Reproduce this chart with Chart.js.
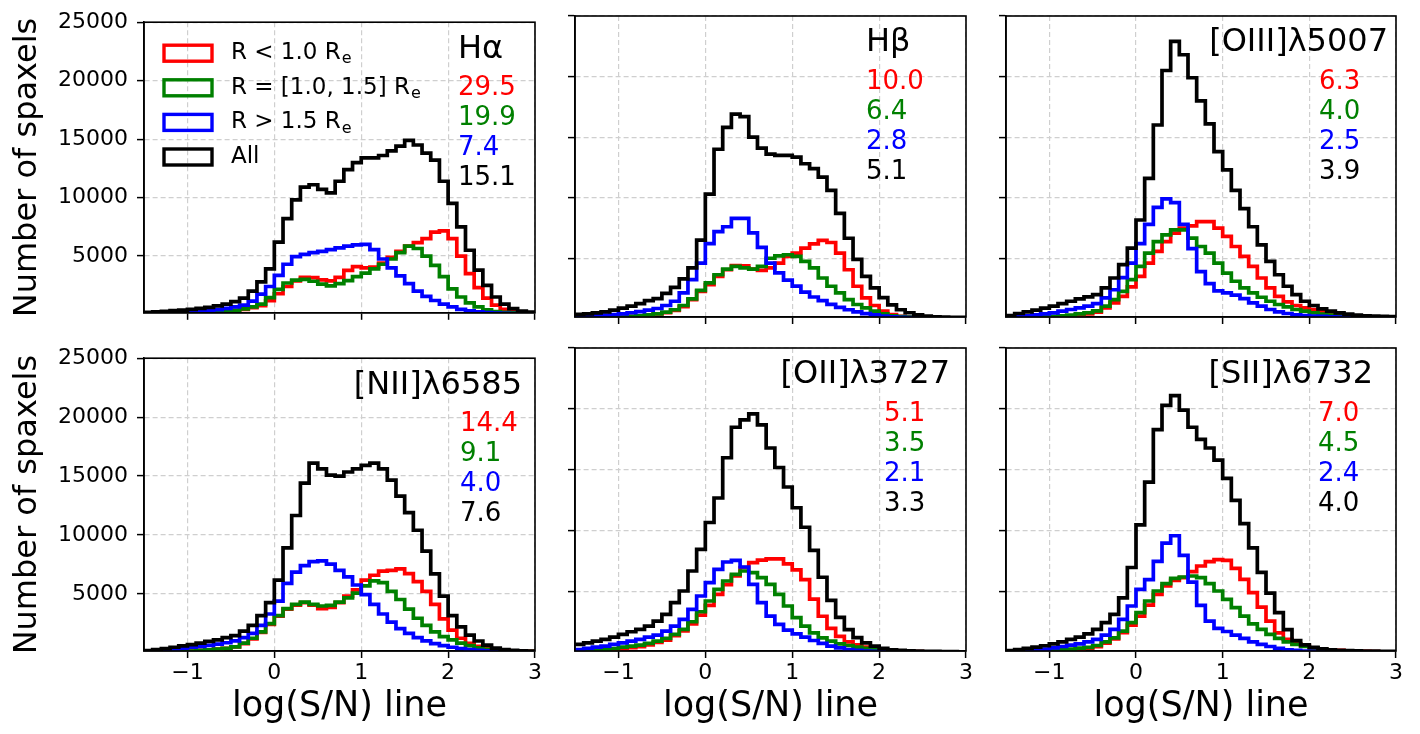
<!DOCTYPE html>
<html>
<head>
<meta charset="utf-8">
<script src="https://cdn.jsdelivr.net/npm/chart.js@4.4.1/dist/chart.umd.min.js"></script>
<style>
  body { margin: 0; background: #fff; }
  #wrap { position: relative; width: 1420px; height: 734px; overflow: hidden; }
  #wrap canvas { position: absolute; }
</style>
</head>
<body>
<div id="wrap"></div>
<script>
// bin edges of the histograms (log S/N)
const binEdges = [-1.5,-1.4,-1.3,-1.2,-1.1,-1.0,-0.9,-0.8,-0.7,-0.6,-0.5,-0.4,-0.3,-0.2,-0.1,0,
  0.1,0.2,0.3,0.4,0.5,0.6,0.7,0.8,0.9,1.0,1.1,1.2,1.3,1.4,1.5,1.6,1.7,1.8,1.9,2.0,
  2.1,2.2,2.3,2.4,2.5,2.6,2.7,2.8,2.9,3.0];

const xTicks = [-1, 0, 1, 2, 3];
const yTicks = [5000, 10000, 15000, 20000, 25000];

const seriesLabels = ['R < 1.0 R_e', 'R = [1.0, 1.5] R_e', 'R > 1.5 R_e', 'All'];
const seriesColors = ['#ff0000', '#008000', '#0000ff', '#000000'];

const lineNames = ['H\u03b1', 'H\u03b2', '[OIII]\u03bb5007', '[NII]\u03bb6585', '[OII]\u03bb3727', '[SII]\u03bb6732'];
const statRed   = [29.5, 10.0, 6.3, 14.4, 5.1, 7.0];
const statGreen = [19.9, 6.4, 4.0, 9.1, 3.5, 4.5];
const statBlue  = [7.4, 2.8, 2.5, 4.0, 2.1, 2.4];
const statAll   = [15.1, 5.1, 3.9, 7.6, 3.3, 4.0];

// counts per bin
const haRed   = [50,60,70,80,90,100,130,170,220,280,350,450,600,770,1180,1780,2400,2880,3180,3150,2960,2880,3180,3780,4100,4000,4050,4400,4900,5400,5850,6150,6500,7050,7150,6500,5000,3500,2300,1400,800,450,250,180,150];
const haGreen = [50,60,70,80,90,100,130,170,220,280,350,480,650,900,1450,2150,2700,2950,3000,2850,2600,2450,2650,2900,3250,3550,3900,4300,4750,5300,5850,5650,5000,4200,3250,2200,1500,1000,650,400,250,180,150,120,100];
const haBlue  = [100,120,140,170,200,240,290,350,430,530,650,800,1150,1750,2400,3350,4300,4950,5150,5300,5400,5550,5700,5850,5950,6000,5550,4750,4000,3300,2650,2000,1550,1200,900,650,450,320,230,170,120,100,80,70,60];
const haAll   = [180,230,280,330,380,450,520,620,750,900,1100,1400,2000,2800,3900,6200,8200,9800,10900,11100,10700,10400,11400,12400,13000,13400,13400,13600,14000,14400,14900,14500,13800,13200,11400,9500,7500,5500,3800,2500,1500,900,500,300,200];

const hbRed   = [50,60,70,90,110,150,200,250,320,400,500,700,1000,1590,2270,2820,3500,4050,4400,4380,4100,4000,4200,4600,5150,5420,5840,6190,6470,6300,5420,4050,2690,1730,1100,630,350,200,150,120,100,80,70,60,50];
const hbGreen = [50,60,70,90,110,150,200,250,320,400,550,750,1100,1640,2350,2960,3640,4100,4330,4200,4100,4330,5000,5200,5290,5150,4740,4200,3370,2690,2140,1590,1180,900,630,420,250,180,140,110,90,70,60,50,40];
const hbBlue  = [200,230,260,300,350,400,500,600,720,850,1100,1450,2140,3230,4600,6200,7200,7600,8300,8300,7100,5900,4600,3800,3200,2700,2200,1800,1500,1200,950,750,580,430,320,230,170,130,100,80,70,60,50,40,30];
const hbAll   = [360,410,490,580,710,880,1040,1260,1500,1670,2100,2600,3300,4200,6500,10300,14000,15800,16900,16700,15000,14100,13600,13500,13500,13350,12800,12400,11700,10600,8700,6650,4900,3500,2550,1750,1150,750,500,330,230,170,150,130,120];

const o3Red   = [80,100,110,130,140,150,200,250,320,400,550,900,1320,1860,2630,3500,4600,5560,6380,7070,7480,7670,8030,8030,7480,6800,5970,5150,4330,3370,2550,1860,1400,1100,900,770,600,450,320,240,200,170,150,130,110];
const o3Green = [100,120,150,170,200,200,250,300,400,500,650,1040,1590,2270,3230,4330,5420,6380,6930,7340,7340,6660,5970,5420,4600,3780,3100,2550,2140,1780,1450,1180,990,770,630,490,380,300,230,200,170,150,130,110,100];
const o3Blue  = [150,200,250,320,400,490,630,770,900,1040,1260,1730,2400,3400,4600,6200,7800,9200,9900,9600,7800,5800,3900,2900,2300,2140,1950,1670,1320,1040,770,575,440,330,260,220,200,170,150,130,120,110,100,90,80];
const o3All   = [270,440,575,710,880,1040,1260,1450,1640,1810,2000,2550,3370,4470,5840,8160,11590,16000,20500,22900,21800,19900,18000,16100,13800,12300,10600,9100,7600,6100,4740,3640,2690,2000,1450,1100,820,630,490,380,300,250,220,200,190];

const n2Red   = [80,90,100,110,130,150,200,250,320,380,500,780,1180,1720,2400,3100,3700,4050,4250,4050,3750,3840,4250,4800,5340,6160,6580,6930,6990,7120,6710,6030,5210,4110,2880,1920,1230,800,550,380,260,200,160,130,110];
const n2Green = [80,90,100,110,130,150,200,250,320,380,500,820,1230,1780,2470,3150,3750,4110,4300,4110,3970,4030,4300,4660,5070,5670,6110,5950,5210,4520,3700,2930,2330,1780,1370,1100,820,600,420,300,200,160,130,110,100];
const n2Blue  = [150,190,230,320,390,470,550,630,740,850,1010,1290,1640,2330,3290,4380,5890,6850,7400,7730,7800,7530,6990,6440,5750,4930,4110,3290,2600,2050,1640,1290,1010,770,600,470,350,260,200,160,130,110,90,80,70];
const n2All   = [190,270,360,470,580,690,820,960,1100,1290,1450,1840,2330,3150,4250,6160,8900,11650,14400,16100,15600,15070,15000,15340,15600,15900,16100,15600,14660,13300,11900,10400,8630,6700,4800,3150,2190,1500,1000,650,400,260,200,170,150];

const o2Red   = [150,190,230,270,310,350,420,500,650,850,1050,1400,1800,2380,3100,3900,4800,5600,6300,7000,7400,7600,7700,7700,7300,6800,6000,4400,3000,2000,1350,900,650,470,330,250,200,150,120,100,80,70,60,50,40];
const o2Green = [150,190,230,290,350,470,550,630,770,960,1180,1510,1920,2550,3370,4250,5210,5890,6440,6710,6580,6160,5620,4800,3840,2880,2190,1640,1230,960,740,600,470,360,270,200,150,120,100,80,70,60,50,40,30];
const o2Blue  = [270,360,470,550,690,820,960,1100,1290,1450,1780,2190,2740,3560,4660,5750,6850,7450,7590,7040,5620,4110,3010,2330,1860,1560,1290,1010,770,550,410,270,200,150,120,100,90,80,70,60,50,40,30,30,20];
const o2All   = [690,820,960,1100,1290,1510,1730,1920,2190,2600,3150,4110,5070,6710,8490,10690,12700,16000,18500,19100,19600,18700,16800,15200,13600,11900,10300,8400,6200,4300,2900,1900,1250,820,550,360,250,200,170,150,130,120,110,100,90];

const s2Red   = [60,70,80,100,120,150,200,250,320,380,500,800,1150,1650,2270,3010,3920,4800,5480,5950,6160,6660,7120,7480,7640,7590,6930,6030,4930,3750,2600,1640,1100,740,550,410,300,220,200,170,150,130,110,90,80];
const s2Green = [80,90,100,120,150,200,250,300,380,450,600,900,1230,1780,2470,3290,4250,5070,5670,6110,6220,6300,6160,5670,5070,4380,3700,3010,2380,1920,1510,1180,900,690,520,410,300,220,170,130,110,90,80,70,60];
const s2Blue  = [150,170,200,250,300,410,520,630,740,900,1100,1450,1920,2740,3840,5210,6000,7500,9000,9600,8000,5800,3900,2600,2000,1750,1450,1180,900,690,520,360,250,200,150,120,100,90,80,70,60,50,40,30,30];
const s2All   = [190,270,360,470,580,740,900,1100,1290,1560,1920,2470,3150,4500,7000,10500,14000,18300,20300,21100,19900,18500,17500,16800,15800,14300,12500,10600,8600,6600,4900,3300,1900,1000,650,450,320,250,200,180,160,150,140,130,120];

const panelSeries = [
  [haRed, haGreen, haBlue, haAll],
  [hbRed, hbGreen, hbBlue, hbAll],
  [o3Red, o3Green, o3Blue, o3All],
  [n2Red, n2Green, n2Blue, n2All],
  [o2Red, o2Green, o2Blue, o2All],
  [s2Red, s2Green, s2Blue, s2All]
];

// layout (pixels)
const colLeft = [144, 575, 1006], colRight = [535, 966, 1396];
const rowTop = [16, 348], rowBottom = [317, 651];
// text placement inside each panel: numbers start at numX from left; title either left (at numX) or right-aligned
const textPos = [
  { numX: 314, titleRight: null },
  { numX: 291, titleRight: null },
  { numX: 313, titleRight: 8 },
  { numX: 316, titleRight: 13 },
  { numX: 309, titleRight: 16 },
  { numX: 312, titleRight: 23 }
];

const FONT = "'DejaVu Sans'";
Chart.defaults.font.family = FONT;
Chart.defaults.color = '#000';

const fmtTick = v => v < 0 ? '\u2212' + Math.abs(v) : String(v);

const framePlugin = {
  id: 'frame',
  afterDatasetsDraw(chart) {
    const { ctx, chartArea: a } = chart;
    ctx.save();
    ctx.strokeStyle = '#000';
    ctx.lineWidth = 1.6;
    ctx.strokeRect(a.left, a.top, a.right - a.left, a.bottom - a.top);
    ctx.restore();
  }
};

const textPlugin = {
  id: 'panelText',
  afterDraw(chart, args, opts) {
    const { ctx, chartArea: a } = chart;
    const p = opts.panel;
    const pos = textPos[p];
    ctx.save();
    ctx.textBaseline = 'middle';
    ctx.fillStyle = '#000';
    ctx.font = '32px ' + FONT;
    if (pos.titleRight === null) {
      ctx.textAlign = 'left';
      ctx.fillText(lineNames[p], a.left + pos.numX, a.top + 27);
    } else {
      ctx.textAlign = 'right';
      ctx.fillText(lineNames[p], a.right - pos.titleRight, a.top + 27);
    }
    ctx.font = '26px ' + FONT;
    ctx.textAlign = 'left';
    [statRed[p], statGreen[p], statBlue[p], statAll[p]].forEach((v, k) => {
      ctx.fillStyle = seriesColors[k];
      ctx.fillText(v.toFixed(1), a.left + pos.numX, a.top + 66 + 30 * k);
    });

    if (p === 0) {
      // legend with open rectangles
      seriesLabels.forEach((lab, k) => {
        const cy = a.top + 31 + 34.6 * k;
        ctx.strokeStyle = seriesColors[k];
        ctx.lineWidth = 3.4;
        ctx.strokeRect(a.left + 20, cy - 8, 48, 16);
        ctx.fillStyle = '#000';
        const parts = lab.split('_');
        ctx.font = '23px ' + FONT;
        ctx.fillText(parts[0], a.left + 87, cy);
        if (parts[1]) {
          const w = ctx.measureText(parts[0]).width;
          ctx.font = '16px ' + FONT;
          ctx.fillText(parts[1], a.left + 87 + w + 1, cy + 6);
        }
      });
    }
    ctx.restore();
  }
};

const wrap = document.getElementById('wrap');

panelSeries.forEach((series, p) => {
  const col = p % 3, row = Math.floor(p / 3);
  const L = col === 0 ? 144 : 20;
  const R = 14;
  const T = row === 0 ? 16 : 12;
  const B = row === 0 ? 18 : 83;
  const pw = colRight[col] - colLeft[col];
  const ph = rowBottom[row] - rowTop[row];
  const cv = document.createElement('canvas');
  cv.width = L + pw + R;
  cv.height = T + ph + B;
  cv.style.left = (colLeft[col] - L) + 'px';
  cv.style.top = (rowTop[row] - T) + 'px';
  wrap.appendChild(cv);

  // histogram drawn as a step line: each count holds from its left bin edge to the next edge
  const datasets = series.map((counts, k) => ({
    label: seriesLabels[k],
    data: binEdges.map((e, i) => ({ x: e, y: counts[Math.min(i, counts.length - 1)] })),
    stepped: 'before',
    borderColor: seriesColors[k],
    borderWidth: 3.7,
    pointRadius: 0,
    fill: false,
    order: 4 - k,
    clip: 0
  }));

  new Chart(cv, {
    type: 'line',
    data: { datasets },
    options: {
      responsive: false,
      animation: false,
      devicePixelRatio: 1,
      layout: { padding: { top: T, right: R, left: 0, bottom: 0 } },
      plugins: {
        legend: { display: false },
        tooltip: { enabled: false },
        panelText: { panel: p }
      },
      scales: {
        x: {
          type: 'linear', min: -1.5, max: 3,
          afterBuildTicks: s => { s.ticks = xTicks.map(v => ({ value: v })); },
          afterFit: s => { s.height = B; },
          grid: { color: '#cfcfcf', lineWidth: 1.2, drawTicks: true, tickLength: 7, tickColor: '#000', tickWidth: 1.5 },
          border: { display: true, color: '#000', width: 1.6, dash: [5, 3] },
          ticks: { display: row === 1, font: { size: 22 }, color: '#000', padding: 2, maxRotation: 0, callback: fmtTick },
          title: { display: row === 1, text: 'log(S/N) line', font: { size: 35 }, color: '#000', padding: { top: 0, bottom: 6 } }
        },
        y: {
          type: 'linear', min: 150, max: 25000,
          afterBuildTicks: s => { s.ticks = yTicks.map(v => ({ value: v })); },
          afterFit: s => { s.width = L; },
          grid: { color: '#cfcfcf', lineWidth: 1.2, drawTicks: true, tickLength: 7, tickColor: '#000', tickWidth: 1.5 },
          border: { display: true, color: '#000', width: 1.6, dash: [5, 3] },
          ticks: { display: col === 0, font: { size: 22 }, color: '#000', padding: 9, callback: v => String(v) },
          title: { display: col === 0, text: 'Number of spaxels', font: { size: 32 }, color: '#000', padding: { top: 8, bottom: 0 } }
        }
      }
    },
    plugins: [framePlugin, textPlugin]
  });
});
</script>
</body>
</html>
